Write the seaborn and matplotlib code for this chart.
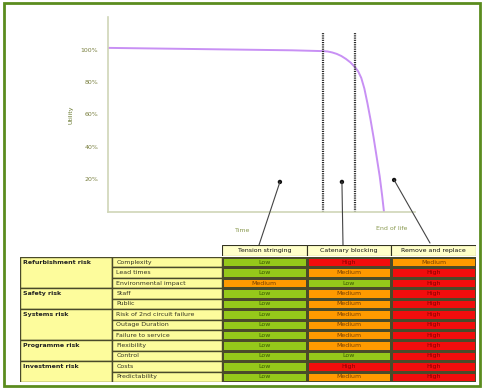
import numpy as np
import pandas as pd
import seaborn as sns
from matplotlib import pyplot as plt
from matplotlib.colors import ListedColormap
from matplotlib.patches import Rectangle

sns.set_style("white")
plt.rcParams["font.family"] = ["DejaVu Sans"]

W, H = 482, 388

# curve data (time in % of axis, utility in %)
time_pts = [0, 20, 40, 60, 70, 71.5, 73, 74.5, 76, 77.5, 79, 80.5, 81.5, 82.5, 83.5,
            84.5, 85.5, 86.5, 87.5, 88.5, 89.3, 89.9]
utility = [101, 100.5, 100, 99.5, 99, 98.8, 98.2, 97.3, 96, 94.2, 92, 89, 86.5, 82.5, 76,
           67, 57, 46, 34, 22, 10, 0]
stage_bounds = [70.1, 80.5]
marker_x = [56, 76.2, 93.2]
marker_y = [18.5, 18.5, 19.7]
yticks = [20, 40, 60, 80, 100]

# risk table
methods = ["Tension stringing", "Catenary blocking", "Remove and replace"]
groups = ["Refurbishment risk", "Safety risk", "Systems risk", "Programme risk", "Investment risk"]
group_sizes = [3, 2, 3, 2, 2]
items = ["Complexity", "Lead times", "Environmental impact", "Staff", "Public",
         "Risk of 2nd circuit failure", "Outage Duration", "Failure to service",
         "Flexibility", "Control", "Costs", "Predictability"]
tension = ["Low", "Low", "Medium", "Low", "Low", "Low", "Low", "Low", "Low", "Low", "Low", "Low"]
catenary = ["High", "Medium", "Low", "Medium", "Medium", "Medium", "Medium", "Medium",
            "Medium", "Low", "High", "Medium"]
replace = ["Medium", "High", "High", "High", "High", "High", "High", "High", "High",
           "High", "High", "High"]

levels = {"Low": 0, "Medium": 1, "High": 2}
level_colors = ["#95c81a", "#ff9a00", "#f20d0d"]
text_colors = ["#3a5a00", "#7a4000", "#8a0000"]


def box(x0, y0, x1, y1):
    return [x0 / W, 1 - y1 / H, (x1 - x0) / W, (y1 - y0) / H]


fig = plt.figure(figsize=(W / 100, H / 100), dpi=100)
fig.patches.append(Rectangle((4 / W, 1 - 386 / H), 476 / W, 383 / H, transform=fig.transFigure,
                             fill=False, edgecolor="#5b8c1e", lw=2))

# --- curve chart ---
ax = fig.add_axes(box(108, 17, 415, 212))
curve = pd.DataFrame({"time": time_pts, "utility": utility})
sns.lineplot(data=curve, x="time", y="utility", ax=ax, color="#c890f4", lw=1.4)
for b in stage_bounds:
    ax.plot([b, b], [0, 110], color="#222222", lw=1.6, ls=(0, (0.5, 0.5)))
sns.scatterplot(x=marker_x, y=marker_y, ax=ax, color="#111111", s=10, edgecolor="none")
ax.set_xlim(0, 100)
ax.set_ylim(0, 120)
ax.set_xticks([])
ax.set_yticks(yticks)
ax.set_yticklabels([f"{t}%" for t in yticks], fontsize=4.5, color="#7a8040")
ax.tick_params(axis="y", length=0, pad=7)
ax.set_xlabel("")
ax.set_ylabel("Utility", fontsize=4.5, color="#6a7a30", labelpad=5)
for side in ["top", "right"]:
    ax.spines[side].set_visible(False)
for side in ["left", "bottom"]:
    ax.spines[side].set_color("#cfd6b8")
    ax.spines[side].set_linewidth(1.2)
fig.text(243 / W, 1 - 230 / H, "Time", fontsize=4.5, color="#8a9a50", ha="center", va="center")
fig.text(392 / W, 1 - 228 / H, "End of life", fontsize=4.5, color="#8a9a50", ha="center", va="center")

ends = [(259, 245), (343, 245), (430, 243)]
for mx, my, (ex, ey) in zip(marker_x, marker_y, ends):
    ax.annotate("", xy=(mx, my), xycoords="data", xytext=(ex, H - ey), textcoords="figure pixels",
                arrowprops=dict(arrowstyle="-", color="#444444", lw=0.8, shrinkA=0, shrinkB=0),
                annotation_clip=False)

# --- table header ---
hdr = fig.add_axes(box(222, 245, 476, 256))
for i, m in enumerate(methods):
    hdr.add_patch(Rectangle((i, 0), 1, 1, facecolor="#ffffc8", edgecolor="#333322", lw=0.8))
    hdr.text(i + 0.5, 0.5, m, ha="center", va="center", fontsize=4.5, color="#111111")
hdr.set_xlim(0, 3)
hdr.set_ylim(0, 1)
hdr.axis("off")

# --- label columns ---
lab = fig.add_axes(box(20, 257, 222, 382))
row = 0
for g, n in zip(groups, group_sizes):
    lab.add_patch(Rectangle((0, row), 1, n, facecolor="#fdfc9c", edgecolor="#4a4a2a", lw=1))
    lab.text(0.03, row + 0.5, g, ha="left", va="center", fontsize=4.5, color="#222222",
             fontweight="bold")
    row += n
for i, it in enumerate(items):
    lab.add_patch(Rectangle((1, i), 1.2, 1, facecolor="#fdfc9c", edgecolor="#4a4a2a", lw=1))
    lab.text(1.05, i + 0.5, it, ha="left", va="center", fontsize=4.5, color="#333322")
lab.set_xlim(0, 2.2)
lab.set_ylim(len(items), 0)
lab.axis("off")

# --- risk heatmap ---
hax = fig.add_axes(box(222, 257, 476, 382))
risk = pd.DataFrame({m: v for m, v in zip(methods, [tension, catenary, replace])}, index=items)
codes = risk.apply(lambda col: col.map(levels)).astype(int)
sns.heatmap(codes, ax=hax, cmap=ListedColormap(level_colors), vmin=-0.5, vmax=2.5, cbar=False,
            annot=risk.values, fmt="", annot_kws={"fontsize": 4.5},
            linewidths=0.8, linecolor="#4a4a2a", xticklabels=False, yticklabels=False)
for t, code in zip(hax.texts, codes.values.flatten()):
    t.set_color(text_colors[code])
hax.set_xlabel("")
hax.set_ylabel("")

fig.savefig("out.png", dpi=100)
